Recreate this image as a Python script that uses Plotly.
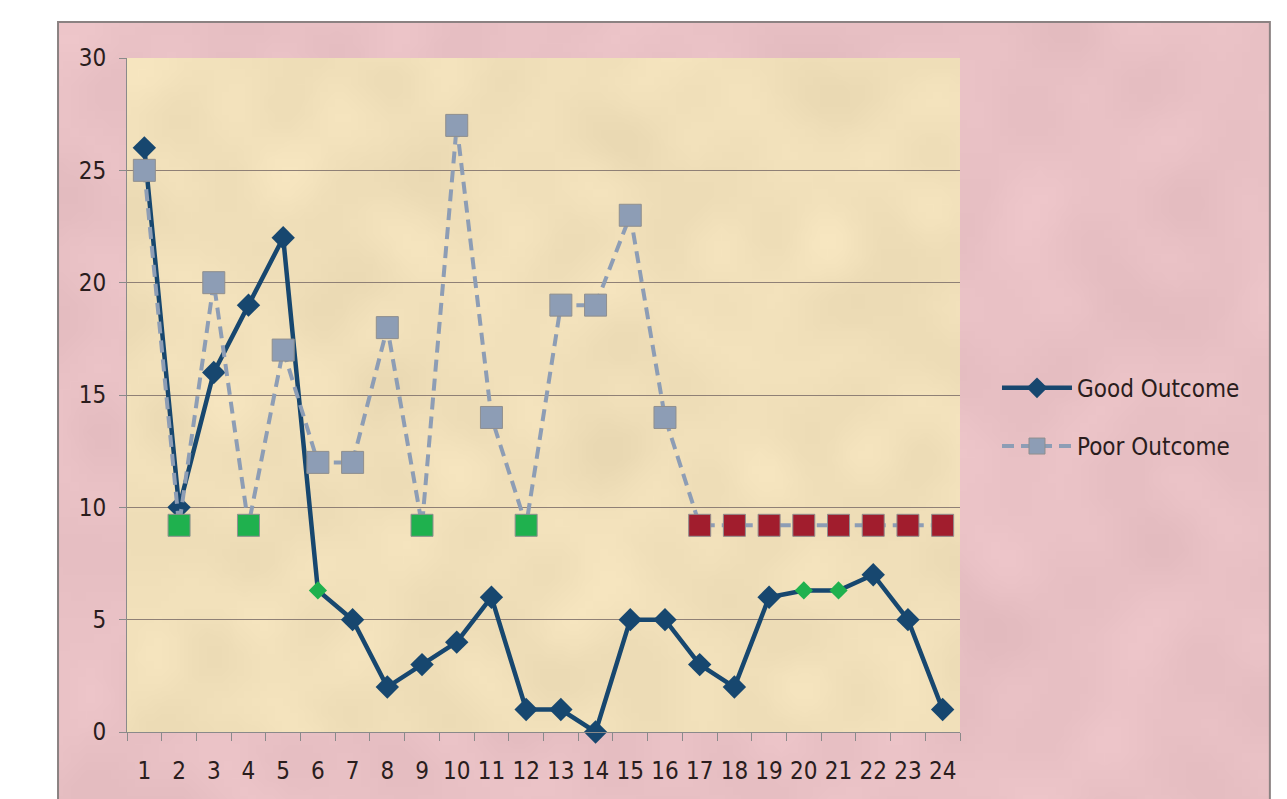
import base64
import struct
import zlib

import numpy as np
import plotly.graph_objects as go

# Categories along the x axis
categories = [str(i) for i in range(1, 25)]

# Series values
good_outcome = [26, 10, 16, 19, 22, 6.3, 5, 2, 3, 4, 6, 1,
                1, 0, 5, 5, 3, 2, 6, 6.3, 6.3, 7, 5, 1]
poor_outcome = [25, 9.2, 20, 9.2, 17, 12, 12, 18, 9.2, 27, 14, 9.2,
                19, 19, 23, 14, 9.2, 9.2, 9.2, 9.2, 9.2, 9.2, 9.2, 9.2]

# Highlighted points
good_green = ["6", "20", "21"]
poor_green = ["2", "4", "9", "12"]
poor_red = [str(i) for i in range(17, 25)]

y_ticks = [0, 5, 10, 15, 20, 25, 30]

GOOD = "#17476f"
POOR = "#8d9db5"
GREEN = "#1fb14e"
RED = "#a11d2d"

good_colors = [GREEN if c in good_green else GOOD for c in categories]
good_sizes = [14 if c in good_green else 18 for c in categories]
poor_colors = [GREEN if c in poor_green else RED if c in poor_red else POOR
               for c in categories]


def mottled_png(base_rgb, w, h, amp):
    """Soft paper-like fill built from overlapping sine waves, as a PNG data URI."""
    yy, xx = np.mgrid[0:h, 0:w].astype(float)
    waves = [(0.11, 0.07, 0.3), (0.05, 0.13, 1.7), (0.19, 0.03, 2.9),
             (0.03, 0.21, 4.1), (0.27, 0.17, 0.9), (0.15, 0.29, 5.3),
             (0.37, 0.09, 2.2), (0.08, 0.41, 3.6)]
    field = np.zeros((h, w))
    for fx, fy, ph in waves:
        field += np.sin(fx * xx + fy * yy + ph) * np.cos(fy * xx - fx * yy + ph * 0.5)
    field /= np.abs(field).max()
    img = np.clip(np.array(base_rgb)[None, None, :] + amp * field[..., None], 0, 255)
    img = img.astype(np.uint8)
    raw = b"".join(b"\x00" + row.tobytes() for row in img)

    def chunk(tag, data):
        return (struct.pack(">I", len(data)) + tag + data
                + struct.pack(">I", zlib.crc32(tag + data) & 0xFFFFFFFF))

    png = (b"\x89PNG\r\n\x1a\n"
           + chunk(b"IHDR", struct.pack(">IIBBBBB", w, h, 8, 2, 0, 0, 0))
           + chunk(b"IDAT", zlib.compress(raw, 9))
           + chunk(b"IEND", b""))
    return "data:image/png;base64," + base64.b64encode(png).decode()


fig = go.Figure()

fig.add_trace(go.Scatter(
    x=categories, y=good_outcome, name="Good Outcome",
    mode="lines+markers", legendgroup="g",
    line=dict(color=GOOD, width=4.5),
    marker=dict(symbol="diamond", size=good_sizes, color=good_colors,
                opacity=1, line=dict(width=0)),
    cliponaxis=False,
))
fig.add_trace(go.Scatter(
    x=categories, y=poor_outcome, name="Poor Outcome",
    mode="lines+markers", legendgroup="p",
    line=dict(color=POOR, width=4, dash="12px,7px"),
    marker=dict(symbol="square", size=22, color=poor_colors, opacity=1,
                line=dict(color="#8f8f8f", width=1)),
    cliponaxis=False,
))

font = "'DejaVu Sans Condensed', 'Liberation Sans Narrow', Lato, sans-serif"
text_color = "#2a1d1d"

# frame extents in paper coordinates
fx0, fx1, fy0, fy1 = -0.0828, 1.372, -0.2, 1.0534

fig.update_layout(
    width=1287, height=799,
    margin=dict(l=127, r=327, t=58, b=67, autoexpand=False),
    paper_bgcolor="white",
    plot_bgcolor="rgba(0,0,0,0)",
    font=dict(family=font, size=24, color=text_color),
    showlegend=True,
    legend=dict(
        x=1.0444, y=0.467, xanchor="left", yanchor="middle",
        traceorder="grouped", tracegroupgap=24,
        itemwidth=70, bgcolor="rgba(0,0,0,0)",
        font=dict(family=font, size=24, color=text_color),
    ),
    xaxis=dict(
        type="category", tickson="boundaries", range=[-0.5, 23.5],
        tickangle=0,
        ticks="outside", ticklen=8, tickcolor="#8a8a8a",
        showline=True, linecolor="#8a8a8a", linewidth=1,
        showgrid=False, zeroline=False,
        ticklabelstandoff=17,
        tickfont=dict(family=font, size=24, color=text_color),
    ),
    yaxis=dict(
        range=[0, 30], tickvals=y_ticks,
        ticks="outside", ticklen=7, tickcolor="#8a8a8a",
        showline=True, linecolor="#8a8a8a", linewidth=1,
        showgrid=True, gridcolor="#8f8076", gridwidth=1,
        zeroline=False, ticklabelstandoff=8,
        tickfont=dict(family=font, size=24, color=text_color),
    ),
    images=[
        # pink paper behind the whole chart
        dict(source=mottled_png((233, 193, 197), 150, 100, 7),
             xref="paper", yref="paper", x=fx0, y=fy1,
             sizex=fx1 - fx0, sizey=fy1 - fy0, sizing="stretch",
             xanchor="left", yanchor="top", layer="below"),
        # parchment behind the plot area
        dict(source=mottled_png((241, 224, 186), 110, 90, 8),
             xref="paper", yref="paper", x=0, y=1,
             sizex=1, sizey=1, sizing="stretch",
             xanchor="left", yanchor="top", layer="below"),
    ],
    shapes=[
        dict(type="rect", xref="paper", yref="paper",
             x0=fx0, x1=fx1, y0=fy0, y1=fy1,
             fillcolor="rgba(0,0,0,0)", line=dict(color="#8b8282", width=2),
             layer="below"),
    ],
)

fig.write_html("out.html")
